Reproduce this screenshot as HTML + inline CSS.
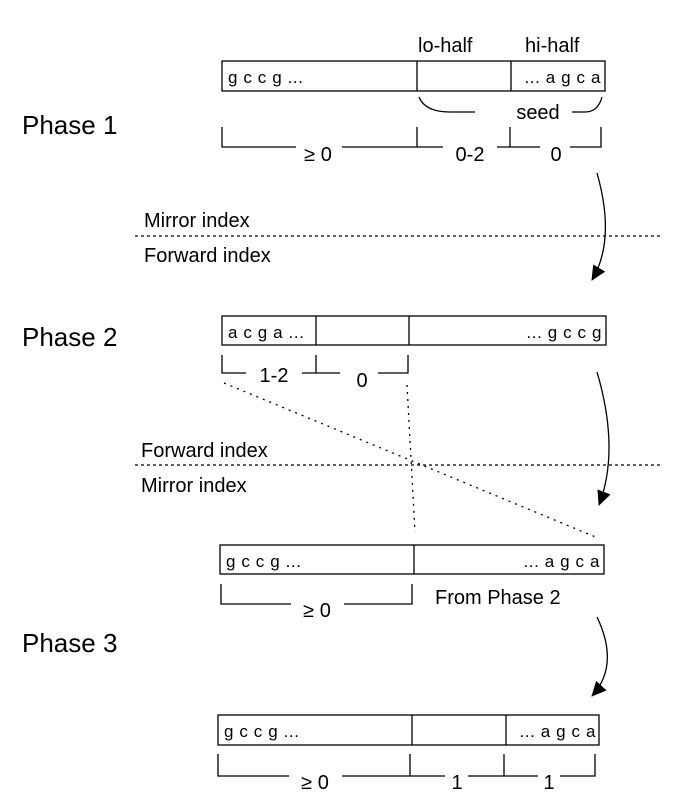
<!DOCTYPE html>
<html><head><meta charset="utf-8"><style>html,body{margin:0;padding:0;background:#fff}svg{display:block}</style></head>
<body>
<svg width="676" height="812" viewBox="0 0 676 812" xmlns="http://www.w3.org/2000/svg" font-family="Liberation Sans, sans-serif" fill="#000">
<defs><marker id="ah" markerWidth="16" markerHeight="16" refX="14" refY="7" orient="auto" markerUnits="userSpaceOnUse"><path d="M0,0 L15,7 L0,14 z" fill="#000"/></marker></defs>
<g stroke="#000" stroke-width="1.3" fill="none">
<rect x="222" y="61" width="383" height="30"/>
<line x1="417" y1="61" x2="417" y2="91"/><line x1="511" y1="61" x2="511" y2="91"/>
<path d="M419,97 Q425,112 450,112 L475,112 M572,112 L585,112 Q598,112 602,97"/>
<path d="M222,127 V147 H296 M342,147 H443 M417,127 V147 M497,147 H540 M510,127 V147 M570,147 H601 V127"/>
<line x1="135" y1="236" x2="660" y2="236" stroke-dasharray="3,3"/>
<line x1="135" y1="465" x2="660" y2="465" stroke-dasharray="3,3"/>
<line x1="224" y1="383" x2="598" y2="538" stroke-dasharray="2,5"/>
<line x1="407" y1="385" x2="415" y2="532" stroke-dasharray="2,5"/>
<rect x="222" y="316" width="384" height="29"/>
<line x1="316" y1="316" x2="316" y2="345"/><line x1="409" y1="316" x2="409" y2="345"/>
<path d="M222,355 V373 H246 M302,373 H340 M316,355 V373 M378,373 H408 V355"/>
<rect x="220" y="545" width="384" height="29"/>
<line x1="414" y1="545" x2="414" y2="574"/>
<path d="M221,584 V604 H291 M344,604 H412 V584"/>
<rect x="218" y="715" width="381" height="30"/>
<line x1="412" y1="715" x2="412" y2="745"/><line x1="506" y1="715" x2="506" y2="745"/>
<path d="M218,754 V776 H289 M342,776 H445 M410,754 V776 M468,776 H538 M504,754 V776 M560,776 H595 V754"/>
<path d="M597,173 Q616,240 592,280" marker-end="url(#ah)"/>
<path d="M597,372 Q620,450 599,505" marker-end="url(#ah)"/>
<path d="M597,617 Q620,665 592,696" marker-end="url(#ah)"/>
</g>
<g font-size="26"><text x="22" y="134">Phase 1</text><text x="22" y="346">Phase 2</text><text x="22" y="652">Phase 3</text></g>
<g font-size="20">
<text x="144" y="227">Mirror index</text><text x="144" y="262">Forward index</text>
<text x="141" y="457">Forward index</text><text x="141" y="492">Mirror index</text>
<text x="418" y="52">lo-half</text><text x="525" y="52">hi-half</text>
<text x="538" y="119" text-anchor="middle">seed</text>
<text x="318" y="161" text-anchor="middle">≥ 0</text><text x="470" y="161" text-anchor="middle">0-2</text><text x="556" y="161" text-anchor="middle">0</text>
<text x="274" y="382" text-anchor="middle">1-2</text><text x="362" y="387" text-anchor="middle">0</text>
<text x="317" y="617" text-anchor="middle">≥ 0</text><text x="435" y="604">From Phase 2</text>
<text x="315" y="789" text-anchor="middle">≥ 0</text><text x="457" y="789" text-anchor="middle">1</text><text x="549" y="789" text-anchor="middle">1</text>
</g>
<g font-size="17" letter-spacing="0.6">
<text x="228" y="83">g c c g ...</text><text x="601" y="83" text-anchor="end">... a g c a</text>
<text x="228" y="338">a c g a ...</text><text x="602" y="338" text-anchor="end">... g c c g</text>
<text x="226" y="567">g c c g ...</text><text x="600" y="567" text-anchor="end">... a g c a</text>
<text x="224" y="737">g c c g ...</text><text x="596" y="737" text-anchor="end">... a g c a</text>
</g>
</svg>
</body></html>
